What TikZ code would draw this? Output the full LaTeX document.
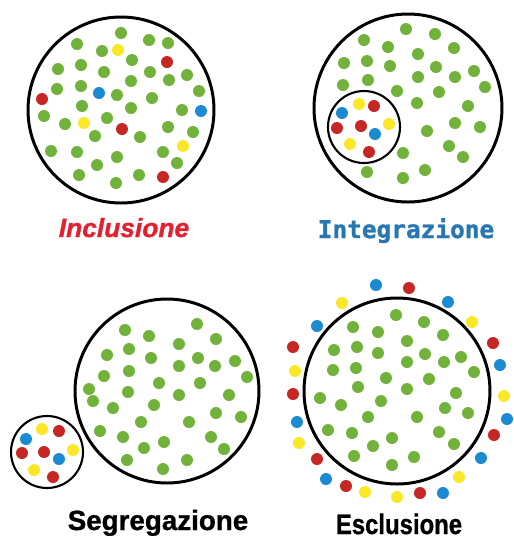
\documentclass[tikz,border=0pt]{standalone}
\usepackage{fontspec}
\setmainfont{Liberation Sans}
\newfontfamily\monobold{DejaVu Sans Mono Bold}[FakeBold=1.2]
\newfontfamily\heavyfont{Liberation Sans Bold}[FakeBold=1,
    ItalicFont={Liberation Sans Bold Italic}, ItalicFeatures={FakeBold=1}]
\usepackage{xcolor}
\definecolor{DotGreen}{RGB}{112,178,58}
\definecolor{DotRed}{RGB}{198,38,36}
\definecolor{DotYellow}{RGB}{250,232,40}
\definecolor{DotBlue}{RGB}{28,138,208}
\definecolor{LabelRed}{RGB}{226,32,48}
\definecolor{LabelBlue}{RGB}{40,118,178}

\begin{document}
\begin{tikzpicture}[x=0.02cm, y=-0.02cm]
    \tikzset{
        group/.style={draw=black, line width=1.7pt},
        smallgroup/.style={draw=black, line width=1.2pt},
        gdot/.style={fill=DotGreen},
        rdot/.style={fill=DotRed},
        ydot/.style={fill=DotYellow},
        bdot/.style={fill=DotBlue},
        caption/.style={anchor=base, inner sep=0pt}
    }
    \useasboundingbox (0,0) rectangle (514,539);

    % Inclusione
    \draw[group] (121,110) circle (93);
    \foreach \p in {(121,33),(77,44),(149,40),(168,43),(102,51),(132,60),(58,69),
        (81,65),(104,72),(150,72),(169,80),(187,75),(57,89),(81,86),(131,81),
        (117,95),(152,98),(199,91),(82,106),(131,108),(182,110),(44,116),(65,124),
        (107,118),(95,136),(140,137),(168,127),(193,132),(51,151),(77,152),
        (117,157),(163,152),(97,165),(177,163),(79,175),(139,175),(116,183)}
        \fill[gdot] \p circle (6);
    \foreach \p in {(118,50),(84,123),(183,146)} \fill[ydot] \p circle (6);
    \foreach \p in {(167,62),(42,99),(122,129),(163,177)} \fill[rdot] \p circle (6);
    \foreach \p in {(99,93),(201,111)} \fill[bdot] \p circle (6);
    \node[caption, text=LabelRed, font=\fontsize{15}{18}\selectfont\heavyfont\itshape]
        (inclusione) at (124,237) {Inclusione};

    % Integrazione
    \draw[group] (408,108) circle (94);
    \draw[smallgroup] (364,127) circle (36);
    \foreach \p in {(406,29),(435,34),(364,40),(388,47),(454,48),(418,54),(344,63),
        (367,61),(390,66),(436,67),(418,77),(455,77),(474,71),(343,85),(368,80),
        (397,91),(439,92),(485,87),(417,103),(468,106),(455,123),(480,127),
        (427,131),(449,146),(403,153),(463,157),(367,172),(425,170),(403,178)}
        \fill[gdot] \p circle (6);
    \foreach \p in {(359,104),(389,124),(350,144)} \fill[ydot] \p circle (6);
    \foreach \p in {(374,106),(337,128),(361,126),(369,152)} \fill[rdot] \p circle (6);
    \foreach \p in {(342,113),(375,134)} \fill[bdot] \p circle (6);
    \node[caption, text=LabelBlue, font=\fontsize{13.9}{16}\selectfont\monobold]
        (integrazione) at (406,238) {Integrazione};

    % Segregazione
    \draw[group] (167,391) circle (92);
    \draw[smallgroup] (47,452) circle (36);
    \foreach \p in {(197,324),(125,330),(149,336),(216,339),(179,344),(129,349),
        (107,355),(151,358),(198,358),(179,366),(215,366),(235,361),(129,371),
        (104,376),(247,377),(159,383),(200,383),(89,389),(93,401),(128,392),
        (179,395),(229,395),(113,408),(154,405),(216,413),(241,417),(141,422),
        (189,422),(100,431),(123,437),(211,437),(164,442),(144,448),(224,449),
        (127,460),(187,460),(163,469)}
        \fill[gdot] \p circle (6);
    \foreach \p in {(42,429),(73,450),(34,470)} \fill[ydot] \p circle (6);
    \foreach \p in {(59,431),(22,453),(44,452),(53,477)} \fill[rdot] \p circle (6);
    \foreach \p in {(26,439),(59,459)} \fill[bdot] \p circle (6);
    \node[caption, font=\fontsize{15.8}{18}\selectfont\heavyfont]
        (segregazione) at (158,530) {Segregazione};

    % Esclusione
    \draw[group] (397,391) circle (93);
    \foreach \p in {(396,315),(424,322),(353,327),(378,332),(443,335),(407,341),
        (357,347),(334,350),(378,353),(425,354),(407,362),(444,362),(461,357),
        (333,370),(356,368),(386,378),(429,379),(474,372),(358,387),(407,389),
        (456,393),(320,398),(341,405),(381,401),(445,408),(468,413),(368,417),
        (417,417),(328,430),(352,433),(392,438),(439,432),(373,446),(454,444),
        (354,456),(414,457),(392,465)}
        \fill[gdot] \p circle (6);
    \foreach \p in {(342,303),(472,322),(295,371),(504,396),(299,443),(459,477),
        (365,492),(397,497)}
        \fill[ydot] \p circle (6);
    \foreach \p in {(409,288),(293,347),(493,343),(293,394),(494,435),(317,459),
        (346,486),(420,493)}
        \fill[rdot] \p circle (6);
    \foreach \p in {(376,285),(448,302),(317,326),(500,365),(297,422),(507,419),
        (481,458),(326,479),(443,493)}
        \fill[bdot] \p circle (6);
    \node[caption, xscale=0.85, font=\fontsize{16}{19}\selectfont\heavyfont]
        (esclusione) at (399,534) {Esclusione};
\end{tikzpicture}
\end{document}
